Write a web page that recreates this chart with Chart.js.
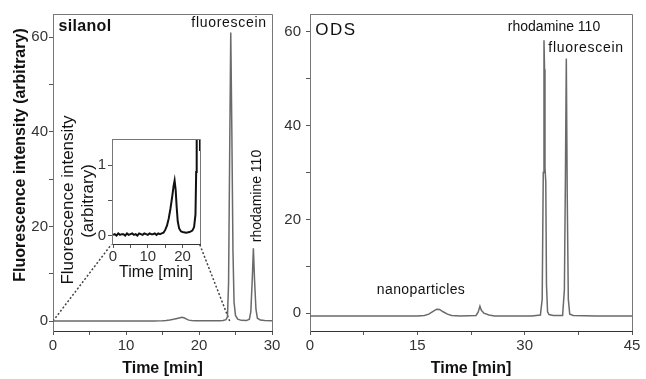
<!DOCTYPE html>
<html>
<head>
<meta charset="utf-8">
<script src="https://cdn.jsdelivr.net/npm/chart.js@4.4.1/dist/chart.umd.min.js"></script>
<style>
body{margin:0;background:#fff;}
#wrap{position:relative;width:646px;height:379px;}
#wrap canvas{position:absolute;left:0;top:0;}
</style>
</head>
<body>
<div id="wrap">
<canvas id="silanolChart" width="646" height="379"></canvas>
<canvas id="odsChart" width="646" height="379"></canvas>
<canvas id="insetChart" width="646" height="379"></canvas>
</div>
<script>
// DATA

// silanol column (left panel + inset)
const silanolTime = [0,0.5,1,1.5,2,2.5,3,3.5,4,4.5,5,5.5,6,6.5,7,7.5,8,8.5,9,9.5,10,10.5,11,11.5,12,12.5,13,13.5,14,
  14.5,15,15.5,16,16.5,17,17.4,17.7,18,18.3,18.6,19,19.5,20,21,22,22.8,23.3,23.7,23.9,24.05,24.2,24.35,24.5,24.65,24.8,25,25.3,25.8,26.5,
  26.9,27.1,27.3,27.45,27.6,27.8,28,28.4,29,30];
const silanolSignal = [0.01,0.02,0,0.03,0.01,0.02,0.02,0,0.03,0.01,0.02,0.03,0.01,0.02,0,0.03,0.02,0.01,0.03,0.02,0.01,0.03,0.02,0.02,0.03,0.01,0.03,0.02,0.03,
  0.04,0.08,0.14,0.24,0.38,0.55,0.7,0.78,0.65,0.4,0.2,0.1,0.06,0.05,0.04,0.05,0.07,0.12,0.3,0.9,8,35,61,40,15,4,1.2,0.4,0.15,0.1,
  0.4,2,9,15.4,9,2.5,0.6,0.2,0.1,0.05];

// ODS column (right panel)
const odsTime = [0,5,10,15,16,16.6,17.2,17.7,18.1,18.6,19.2,19.8,21,23.2,23.5,23.75,23.95,24.3,25,25.8,31,32.2,32.45,32.6,32.7,32.78,32.84,32.95,33.05,33.2,33.4,34,
  35.3,35.55,35.7,35.82,35.95,36.1,36.3,36.8,40,45];
const odsSignal = [-0.6,-0.6,-0.6,-0.6,-0.5,-0.2,0.4,0.85,0.8,0.3,-0.2,-0.5,-0.6,-0.5,0.2,1.5,0.6,0,-0.4,-0.6,-0.6,-0.4,3,30,58.2,52,31,28,6,0.3,-0.3,-0.5,
  -0.5,5,30,54.3,25,3,-0.2,-0.5,-0.6,-0.6];

// dotted zoom links (left panel data coords)
const linkLeft = [[0,0],[8.0,16.2]];
const linkRight = [[24.2,0],[20.1,16.2]];

// TICKS
const silanolXTicks = [0,5,10,15,20,25,30];
const silanolXLabels = [0,10,20,30];
const silanolYTicks = [0,10,20,30,40,50,60];
const odsXTicks = [0,7.5,15,22.5,30,37.5,45];
const odsXLabels = [0,15,30,45];
const odsYTicks = [0,10,20,30,40,50,60];
const mainYLabels = [0,20,40,60];
const insetXTicks = [0,5,10,15,20];
const insetXLabels = [0,10,20];
const insetYTicks = [0,0.5,1];
const insetYLabels = [0,1];

function pts(xs, ys){
  return xs.map((x,i)=>({x:x,y:ys[i]}));
}

Chart.defaults.font.family = "'Liberation Sans', Arial, sans-serif";
Chart.defaults.color = "#222";
Chart.defaults.animation = false;

// frame + free text
const notesPlugin = {
  id:"notes",
  afterDraw(chart, args, opts){
    const ctx = chart.ctx;
    const ca = chart.chartArea;
    if(opts.frame){
      ctx.save();
      ctx.strokeStyle = opts.frame;
      ctx.lineWidth = 1;
      ctx.beginPath();
      ctx.moveTo(Math.round(ca.left), Math.round(ca.top)+0.5);
      ctx.lineTo(Math.round(ca.right)+0.5, Math.round(ca.top)+0.5);
      ctx.lineTo(Math.round(ca.right)+0.5, Math.round(ca.bottom));
      ctx.stroke();
      ctx.restore();
    }
    (opts.items||[]).forEach(n=>{
      ctx.save();
      ctx.font = n.font;
      ctx.fillStyle = n.color || "#111";
      ctx.letterSpacing = n.spacing || "0px";
      ctx.textAlign = "center";
      ctx.textBaseline = "middle";
      ctx.translate(n.x, n.y);
      if(n.rotate) ctx.rotate(n.rotate);
      ctx.fillText(n.text, 0, 0);
      ctx.restore();
    });
  }
};

function axisX(min, max, ticks, labels, width, height, titleSize, bold, tickFont){
  return {
    type:"linear", min:min, max:max,
    afterFit: s => { s.height = height; },
    afterBuildTicks: s => { s.ticks = ticks.map(v=>({value:v})); },
    grid:{drawOnChartArea:false, drawTicks:true, tickLength:4, color:"#555"},
    border:{display:true, color:"#333", width:1},
    ticks:{autoSkip:false, maxRotation:0, padding:2, font:{size:tickFont}, color:"#333",
      callback: v => labels.includes(v) ? String(v) : ""},
    title:{display:true, text:"Time [min]", color:"#111",
      font:{size:titleSize, weight:bold ? "bold" : "normal"}, padding:{top:0,bottom:1}}
  };
}

function axisY(min, max, ticks, labels, width, pad, tickFont){
  return {
    type:"linear", min:min, max:max,
    afterFit: s => { s.width = width; },
    afterBuildTicks: s => { s.ticks = ticks.map(v=>({value:v})); },
    grid:{drawOnChartArea:false, drawTicks:true, tickLength:4, color:"#555"},
    border:{display:true, color:"#777", width:1},
    ticks:{autoSkip:false, padding:pad, font:{size:tickFont}, color:"#333",
      callback: v => labels.includes(v) ? String(v) : ""}
  };
}

// LEFT: SILANOL

new Chart(
document.getElementById("silanolChart"),
{
type:"line",
data:{
datasets:[{
data:pts(silanolTime, silanolSignal),
borderColor:"#6a6a6a", borderWidth:1.5, pointRadius:0, tension:0
},{
data:linkLeft.map(p=>({x:p[0],y:p[1]})),
borderColor:"#444", borderWidth:1.5, borderDash:[2,2], pointRadius:0
},{
data:linkRight.map(p=>({x:p[0],y:p[1]})),
borderColor:"#444", borderWidth:1.5, borderDash:[2,2], pointRadius:0
}]
},
options:{
responsive:false,
layout:{padding:{left:0, top:14, right:374, bottom:0}},
scales:{
x:axisX(0, 30, silanolXTicks, silanolXLabels, 0, 48, 16, true, 15),
y:axisY(-2.1, 64.9, silanolYTicks, mainYLabels, 53, 1, 15)
},
plugins:{
legend:{display:false}, tooltip:{enabled:false},
notes:{
frame:"#777",
items:[
{text:"Fluorescence intensity (arbitrary)", x:21, y:155, font:"bold 16px 'Liberation Sans'", rotate:-Math.PI/2},
{text:"silanol", x:85, y:27, font:"bold 16px 'Liberation Sans'", spacing:"0.3px"},
{text:"fluorescein", x:229, y:23, font:"14px 'Liberation Sans'", spacing:"0.7px"},
{text:"rhodamine 110", x:257, y:196, font:"14px 'Liberation Sans'", rotate:-Math.PI/2},
{text:"Fluorescence intensity", x:68, y:200, font:"17px 'Liberation Sans'", rotate:-Math.PI/2},
{text:"(arbitrary)", x:88, y:201, font:"17px 'Liberation Sans'", rotate:-Math.PI/2}
]
}
}
},
plugins:[notesPlugin]
}
);

// RIGHT: ODS

new Chart(
document.getElementById("odsChart"),
{
type:"line",
data:{
datasets:[{
data:pts(odsTime, odsSignal),
borderColor:"#6a6a6a", borderWidth:1.5, pointRadius:0, tension:0
}]
},
options:{
responsive:false,
layout:{padding:{left:280, top:14, right:14, bottom:0}},
scales:{
x:axisX(0, 45, odsXTicks, odsXLabels, 0, 48, 16, true, 15),
y:axisY(-3.8, 63.8, odsYTicks, mainYLabels, 30, 5, 15)
},
plugins:{
legend:{display:false}, tooltip:{enabled:false},
notes:{
frame:"#777",
items:[
{text:"ODS", x:336, y:30, font:"17px 'Liberation Sans'", spacing:"1.5px"},
{text:"rhodamine 110", x:554, y:27, font:"14px 'Liberation Sans'"},
{text:"fluorescein", x:586, y:48, font:"14px 'Liberation Sans'", spacing:"0.7px"},
{text:"nanoparticles", x:421, y:290, font:"14px 'Liberation Sans'", spacing:"0.4px"}
]
}
}
},
plugins:[notesPlugin]
}
);

// INSET

new Chart(
document.getElementById("insetChart"),
{
type:"line",
data:{
datasets:[{
data:pts(silanolTime, silanolSignal),
borderColor:"#111", borderWidth:2, pointRadius:0, tension:0
}]
},
options:{
responsive:false,
layout:{padding:{left:92, top:139, right:446, bottom:96}},
scales:{
x:Object.assign(axisX(-0.3, 25, insetXTicks, insetXLabels, 0, 39, 16, false, 15),
  {ticks:{autoSkip:false, maxRotation:0, padding:0, font:{size:15}, color:"#333",
    callback: v => insetXLabels.includes(v) ? String(v) : ""}}),
y:axisY(-0.12, 1.37, insetYTicks, insetYLabels, 20, 2, 15)
},
plugins:{
legend:{display:false}, tooltip:{enabled:false},
notes:{frame:"#777", items:[]}
}
},
plugins:[notesPlugin]
}
);
</script>
</body>
</html>
